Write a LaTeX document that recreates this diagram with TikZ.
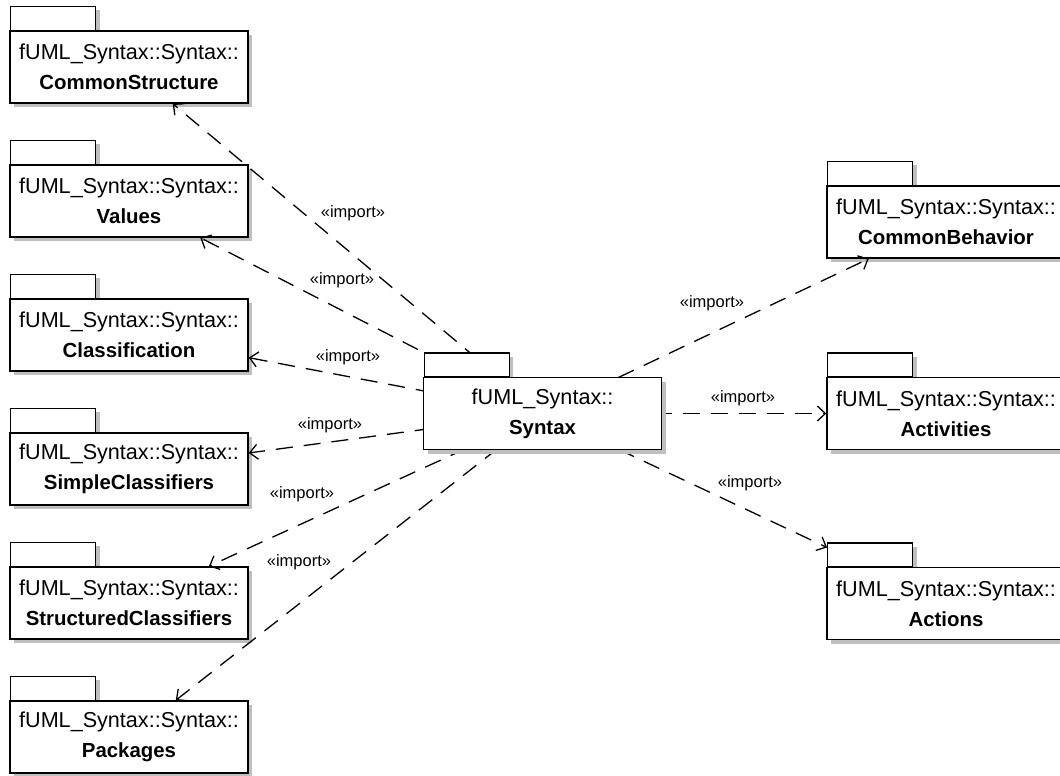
\documentclass[tikz,border=0pt]{standalone}
\usepackage{fontspec}
\setmainfont{Liberation Sans}
\usetikzlibrary{%
  arrows.meta,%
  shadows
}
\pgfdeclarelayer{front}
\pgfsetlayers{main,front}

% package = tab + body, centred at #2
\newcommand{\umlpackage}[4]{%
  \coordinate (#1c) at (#2);
  \node [pkgtab,anchor=south west] (#1tab) at ([shift={(-119,-36)}]#1c) {};
  \node [pkgbody] (#1) at (#1c)
    {fUML\_Syntax::#3\\{\fontsize{20.4}{30}\selectfont\bfseries #4}};
}

\begin{document}
\begin{tikzpicture}[x=1pt,y=-1pt,
    pkgshadow/.style={general shadow={fill=black!25,shadow xshift=4pt,shadow yshift=-4pt}},
    pkgbody/.style={draw,line width=1.4pt,fill=white,pkgshadow,
      minimum width=238pt,minimum height=72pt,inner sep=0pt,
      align=center,font=\fontsize{21.6}{30}\selectfont},
    pkgtab/.style={draw,line width=1.4pt,fill=white,pkgshadow,
      minimum width=85pt,minimum height=24pt,inner sep=0pt},
    imports/.style={line width=1.3pt,dash pattern=on 17pt off 11pt,
      -{Straight Barb[length=8pt,width=15pt]}},
    stereo/.style={font=\fontsize{16.5}{20}\selectfont,inner sep=1pt}
  ]
      \useasboundingbox (0,0) rectangle (1060,776);
      \umlpackage{structure}{129,67}{Syntax::}{CommonStructure}
      \umlpackage{values}{129,201}{Syntax::}{Values}
      \umlpackage{classif}{129,335}{Syntax::}{Classification}
      \umlpackage{simple}{129,469}{Syntax::}{SimpleClassifiers}
      \umlpackage{structured}{129,603}{Syntax::}{StructuredClassifiers}
      \umlpackage{packages}{129,737}{Syntax::}{Packages}
      \umlpackage{behavior}{946,222}{Syntax::}{CommonBehavior}
      \umlpackage{activities}{946,413.5}{Syntax::}{Activities}
      \umlpackage{actions}{946,603.5}{Syntax::}{Actions}
      \begin{pgfonlayer}{front}
        \umlpackage{syn}{542.5,413.5}{}{Syntax}
      \end{pgfonlayer}
      \begin{scope}[imports]
        \draw (syn.center) -- (structure);
        \draw (syn.center) -- (values);
        \draw (syn.center) -- (classif);
        \draw (syn.center) -- (simple);
        \draw (syn.center) -- (structured);
        \draw (syn.center) -- (packages);
        \draw (syn.center) -- (behavior);
        \draw (syn.center) -- (activities);
        \draw (syn.center) --
          (intersection of syn.center--actions.center and actionstab.north west--actionstab.south west);
      \end{scope}
      \node [stereo] (imp1) at (353,213) {«import»};
      \node [stereo] (imp2) at (342,280) {«import»};
      \node [stereo] (imp3) at (348,357) {«import»};
      \node [stereo] (imp4) at (330,425) {«import»};
      \node [stereo] (imp5) at (302,494) {«import»};
      \node [stereo] (imp6) at (299,562) {«import»};
      \node [stereo] (imp7) at (712,303) {«import»};
      \node [stereo] (imp8) at (743,398) {«import»};
      \node [stereo] (imp9) at (750,483) {«import»};
    \end{tikzpicture}
\end{document}
